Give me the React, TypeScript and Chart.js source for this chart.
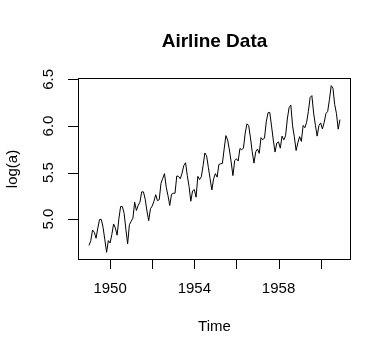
import React, { useEffect, useRef } from "react";
import { Chart, registerables } from "chart.js";

Chart.register(...registerables);

// Monthly airline passengers (thousands), 1949–1960; plotted as log(a)
const startYear = 1949;
const a1949 = [112, 118, 132, 129, 121, 135, 148, 148, 136, 119, 104, 118];
const a1950 = [115, 126, 141, 135, 125, 149, 170, 170, 158, 133, 114, 140];
const a1951 = [145, 150, 178, 163, 172, 178, 199, 199, 184, 162, 146, 166];
const a1952 = [171, 180, 193, 181, 183, 218, 230, 242, 209, 191, 172, 194];
const a1953 = [196, 196, 236, 235, 229, 243, 264, 272, 237, 211, 180, 201];
const a1954 = [204, 188, 235, 227, 234, 264, 302, 293, 259, 229, 203, 229];
const a1955 = [242, 233, 267, 269, 270, 315, 364, 347, 312, 274, 237, 278];
const a1956 = [284, 277, 317, 313, 318, 374, 413, 405, 355, 306, 271, 306];
const a1957 = [315, 301, 356, 348, 355, 422, 465, 467, 404, 347, 305, 336];
const a1958 = [340, 318, 362, 348, 363, 435, 491, 505, 404, 359, 310, 337];
const a1959 = [360, 342, 406, 396, 420, 472, 548, 559, 463, 407, 362, 405];
const a1960 = [417, 391, 419, 461, 472, 535, 622, 606, 508, 461, 390, 432];
const years = [a1949, a1950, a1951, a1952, a1953, a1954, a1955, a1956, a1957, a1958, a1959, a1960];

const xTicks = [1950, 1952, 1954, 1956, 1958, 1960];
const xTickLabels = ["1950", "", "1954", "", "1958", ""];
const yTicks = [5.0, 5.5, 6.0, 6.5];
const yTickLabels = ["5.0", "5.5", "6.0", "6.5"];
const titleText = "Airline Data";
const xTitle = "Time";
const yTitle = "log(a)";

const FONT = "'Liberation Sans', Arial, Helvetica, sans-serif";

export default function App() {
  const ref = useRef<HTMLCanvasElement>(null);

  useEffect(() => {
    const points: { x: number; y: number }[] = [];
    years.forEach((arr, yi) => {
      arr.forEach((v, m) => {
        points.push({ x: startYear + yi + m / 12, y: Math.log(v) });
      });
    });
    const xs = points.map((p) => p.x);
    const ys = points.map((p) => p.y);
    const xMin0 = Math.min(...xs), xMax0 = Math.max(...xs);
    const yMin0 = Math.min(...ys), yMax0 = Math.max(...ys);
    const xPad = (xMax0 - xMin0) * 0.04;
    const yPad = (yMax0 - yMin0) * 0.04;

    const decor = {
      id: "rdecor",
      afterDraw(chart: any) {
        const ctx = chart.ctx;
        const { left, right, top, bottom } = chart.chartArea;
        const xs = chart.scales.x;
        const ys = chart.scales.y;
        ctx.save();
        ctx.strokeStyle = "#000";
        ctx.fillStyle = "#000";
        ctx.lineWidth = 1;
        // box
        ctx.strokeRect(Math.round(left) - 0.5, Math.round(top) - 0.5, Math.round(right - left) + 1, Math.round(bottom - top) + 1);
        // x ticks
        ctx.beginPath();
        xTicks.forEach((v) => {
          const px = Math.round(xs.getPixelForValue(v)) + 0.5;
          ctx.moveTo(px, bottom);
          ctx.lineTo(px, bottom + 10);
        });
        // y ticks
        yTicks.forEach((v) => {
          const py = Math.round(ys.getPixelForValue(v)) + 0.5;
          ctx.moveTo(left, py);
          ctx.lineTo(left - 11, py);
        });
        ctx.stroke();
        // x tick labels
        ctx.font = `15px ${FONT}`;
        ctx.textAlign = "center";
        ctx.textBaseline = "middle";
        xTicks.forEach((v, i) => {
          if (xTickLabels[i]) ctx.fillText(xTickLabels[i], xs.getPixelForValue(v), 289);
        });
        // y tick labels rotated
        yTicks.forEach((v, i) => {
          ctx.save();
          ctx.translate(49, ys.getPixelForValue(v));
          ctx.rotate(-Math.PI / 2);
          ctx.fillText(yTickLabels[i], 0, 0);
          ctx.restore();
        });
        // axis titles
        ctx.fillText(xTitle, (left + right) / 2, 327);
        ctx.save();
        ctx.translate(13, (top + bottom) / 2);
        ctx.rotate(-Math.PI / 2);
        ctx.fillText(yTitle, 0, 0);
        ctx.restore();
        // main title
        ctx.font = `bold 19px ${FONT}`;
        ctx.fillText(titleText, (left + right) / 2, 42);
        ctx.restore();
      },
    };

    const chart = new Chart(ref.current!, {
      type: "line",
      data: {
        datasets: [
          {
            data: points,
            borderColor: "#000",
            borderWidth: 1,
            pointRadius: 0,
            tension: 0,
            fill: false,
          },
        ],
      },
      options: {
        animation: false,
        responsive: false,
        maintainAspectRatio: false,
        layout: { padding: { left: 79, right: 41, top: 79, bottom: 98 } },
        plugins: { legend: { display: false }, tooltip: { enabled: false }, title: { display: false } },
        scales: {
          x: { type: "linear", display: false, min: xMin0 - xPad, max: xMax0 + xPad },
          y: { type: "linear", display: false, min: yMin0 - yPad, max: yMax0 + yPad },
        },
      },
      plugins: [decor],
    });
    return () => chart.destroy();
  }, []);

  return (
    <div style={{ position: "fixed", left: 0, top: 0, width: 391, height: 357, background: "#fff" }}>
      <canvas ref={ref} width={391} height={357} style={{ width: 391, height: 357 }} />
    </div>
  );
}
